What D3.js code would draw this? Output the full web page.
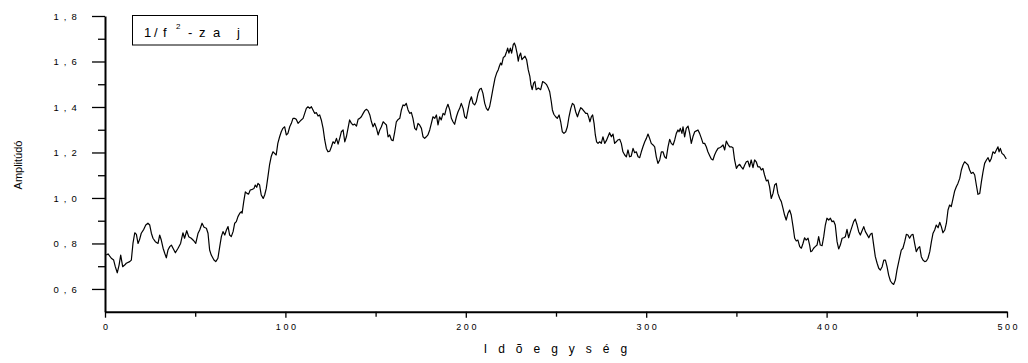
<!DOCTYPE html>
<html>
<head>
<meta charset="utf-8">
<script src="https://cdn.jsdelivr.net/npm/d3@7"></script>
<style>
  body { margin: 0; background: #fff; }
  svg { display: block; }
  text { font-family: "Liberation Sans", Arial, sans-serif; fill: #000; }
</style>
</head>
<body>
<svg id="chart" width="1028" height="363"></svg>
<script>
// Time samples of the 1/f^2 noise trace
const t = [
  0.7,1.7,3.5,4.8,5.7,6.8,7.8,8.7,9.8,10.9,11.8,13.7,14.6,15.5,16.5,17.4,18.3,19.2,20.1,21.5,
  22.6,23.8,24.8,25.7,26.6,27.9,29.4,30.3,31.2,32.2,33.1,34.0,34.9,35.9,36.8,37.7,39.0,40.5,41.9,43.2,
  44.1,45.3,46.4,47.8,49.2,50.3,
  51.6,52.5,53.8,54.9,56.2,57.1,58.0,58.9,60.4,61.4,62.6,63.6,64.5,65.4,66.4,67.3,68.2,69.1,70.0,71.0,
  71.9,72.8,73.7,74.7,75.6,76.0,76.9,77.8,78.7,79.6,80.5,81.7,82.6,83.3,84.1,84.8,85.7,86.6,87.7,88.5,
  89.4,90.3,91.2,92.1,93.1,94.0,94.9,95.8,96.8,97.7,98.6,99.6,100.5,101.4,102.4,103.3,104.2,105.1,106.0,
  107.0,108.8,109.8,110.7,111.6,112.5,113.5,114.4,115.3,116.2,117.2,118.1,119.0,119.9,120.9,121.8,122.7,123.6,124.6,125.5,
  126.4,127.3,128.3,129.2,130.1,131.0,132.0,132.9,133.8,134.7,135.6,136.6,137.5,138.4,139.4,140.3,141.2,142.1,143.1,144.0,
  144.9,145.8,146.8,147.7,148.6,149.5,150.5,151.4,152.3,153.2,154.2,155.1,156.0,156.9,157.8,158.8,159.7,160.6,161.5,
  162.5,163.4,164.3,165.2,166.1,167.0,168.0,168.9,169.8,170.7,171.7,172.6,173.5,174.4,175.4,176.3,177.2,178.1,179.0,180.0,
  180.9,181.8,182.8,183.7,184.6,185.5,186.4,187.4,188.3,189.2,190.1,191.1,192.0,192.9,193.8,194.8,195.7,196.6,197.5,198.5,
  199.4,200.3,201.2,202.1,203.1,204.0,204.9,205.8,206.8,207.7,208.6,209.5,210.5,211.4,212.3,213.2,214.1,215.1,
  216.2,217.1,218.0,218.6,219.3,219.9,220.8,221.7,222.7,223.2,223.9,224.7,225.4,226.3,226.9,227.6,228.4,229.1,229.6,230.4,
  231.1,231.8,232.8,233.7,234.6,235.5,236.1,236.8,237.6,238.3,239.0,240.2,241.5,242.6,243.9,244.8,245.7,
  246.5,247.4,248.0,248.8,249.8,250.7,251.7,252.6,253.5,254.4,255.4,256.3,257.2,258.2,259.1,260.0,260.9,261.9,262.8,263.7,
  264.6,265.5,266.5,267.4,268.3,268.8,269.6,270.3,271.1,271.8,272.5,273.3,
  274.2,275.1,276.0,277.0,277.9,278.8,279.7,280.7,281.6,282.5,283.4,284.3,285.3,286.2,287.1,288.1,289.0,289.9,290.8,291.7,
  292.7,293.6,294.5,295.5,296.4,297.3,298.2,299.2,300.1,301.0,301.9,302.8,303.8,304.7,305.6,306.5,307.5,308.4,309.3,310.2,
  311.1,312.1,313.0,313.9,314.9,315.8,316.7,317.6,318.2,318.9,319.8,320.4,321.3,322.2,323.2,324.1,325.0,325.9,326.9,327.8,
  328.7,329.6,330.6,331.5,
  332.4,333.3,334.2,335.2,336.1,337.0,337.9,338.9,339.8,340.7,341.6,342.6,343.5,344.4,345.3,346.3,347.2,348.1,349.0,350.0,
  350.9,351.8,352.7,353.7,354.6,355.5,356.4,357.3,358.2,359.2,360.1,361.0,361.9,362.9,363.8,364.7,365.6,366.6,367.5,368.4,
  369.3,370.3,371.2,372.1,373.0,374.0,374.9,375.8,376.7,377.6,378.6,379.5,380.4,381.4,382.3,383.2,
  384.1,385.1,386.0,386.9,387.8,388.7,389.7,390.6,391.2,391.9,392.8,393.7,394.7,395.6,396.5,397.5,398.4,399.3,400.2,401.2,
  402.1,403.0,403.9,404.8,405.8,406.7,407.6,408.6,409.5,410.4,411.3,412.2,413.2,414.1,415.0,415.9,416.9,417.8,418.7,419.6,
  420.6,421.5,422.4,423.4,424.3,425.2,426.1,427.0,428.0,428.9,429.8,430.8,431.7,432.6,433.5,434.4,435.4,436.3,437.2,438.1,
  439.0,440.0,
  441.4,442.3,443.3,444.2,445.1,446.0,447.0,447.9,448.8,449.7,450.7,451.6,452.5,453.4,454.4,455.3,456.2,457.2,458.1,459.0,
  459.9,460.8,461.8,462.7,463.6,464.5,465.5,466.4,467.3,468.2,469.1,470.1,471.0,471.9,472.8,473.8,474.7,475.6,476.5,477.5,
  478.4,479.3,480.2,481.2,482.1,483.0,483.9,484.9,485.8,486.7,487.6,488.6,489.5,490.4,491.3,492.2,493.2,494.1,495.0,495.6,
  496.3,497.2,498.3,499.6
];
const amplitude = [
  .749,.754,.735,.727,.698,.671,.705,.749,.698,.705,.713,.720,.727,.800,.847,.840,.800,.818,.845,.862,
  .881,.889,.881,.845,.823,.808,.800,.837,.815,.779,.757,.737,.771,.786,.793,.779,.759,.779,.800,.847,
  .823,.856,.830,.823,.812,.800,
  .845,.859,.889,.871,.867,.845,.771,.749,.727,.720,.735,.786,.830,.852,.837,.859,.874,.837,.830,.852,
  .889,.896,.918,.933,.940,.933,.984,1.027,1.020,1.017,1.035,1.038,1.042,1.057,1.047,1.064,1.057,1.013,.998,1.013,
  1.042,1.093,1.145,1.181,1.203,1.196,1.189,1.240,1.269,1.291,1.306,1.313,1.277,1.284,1.313,1.328,1.350,1.350,1.346,
  1.328,1.343,1.350,1.372,1.394,1.401,1.394,1.401,1.387,1.372,1.375,1.360,1.365,1.343,1.306,1.255,1.218,1.203,1.206,1.225,
  1.247,1.240,1.262,1.237,1.262,1.291,1.299,1.247,1.269,1.306,1.343,1.328,1.321,1.325,1.316,1.346,1.350,1.357,1.372,1.384,
  1.390,1.384,1.365,1.335,1.313,1.328,1.306,1.277,1.299,1.313,1.335,1.328,1.321,1.269,1.277,1.255,1.252,1.291,1.335,
  1.345,1.350,1.387,1.409,1.406,1.416,1.387,1.372,1.376,1.350,1.306,1.299,1.328,1.321,1.306,1.269,1.262,1.269,1.277,1.299,
  1.328,1.357,1.350,1.365,1.321,1.357,1.343,1.372,1.365,1.394,1.412,1.387,1.350,1.335,1.324,1.357,1.379,1.394,1.416,1.394,
  1.357,1.350,1.387,1.423,1.445,1.416,1.409,1.423,1.460,1.478,1.482,1.460,1.416,1.394,1.385,1.401,1.438,1.482,
  1.527,1.549,1.564,1.579,1.593,1.585,1.618,1.623,1.645,1.659,1.637,1.659,1.637,1.674,1.681,1.667,1.637,1.601,1.623,1.637,
  1.608,1.615,1.623,1.608,1.564,1.535,1.498,1.476,1.505,1.512,1.476,1.483,1.476,1.512,1.505,1.498,1.483,
  1.467,1.423,1.387,1.368,1.357,1.350,1.365,1.335,1.291,1.284,1.291,1.313,1.357,1.394,1.416,1.409,1.379,1.357,1.379,1.397,
  1.391,1.382,1.372,1.372,1.350,1.335,1.357,1.365,1.328,1.277,1.247,1.240,
  1.247,1.240,1.269,1.240,1.252,1.269,1.287,1.269,1.281,1.240,1.247,1.255,1.258,1.240,1.203,1.189,1.181,1.211,1.181,1.184,
  1.218,1.199,1.203,1.181,1.177,1.203,1.225,1.247,1.262,1.281,1.262,1.240,1.233,1.225,1.181,1.152,1.167,1.203,1.203,1.181,
  1.174,1.225,1.258,1.240,1.233,1.255,1.284,1.299,1.291,1.306,1.284,1.313,1.269,1.306,1.316,1.284,1.240,1.269,1.291,1.295,
  1.299,1.284,1.262,1.240,
  1.240,1.225,1.203,1.186,1.171,1.167,1.189,1.206,1.218,1.221,1.225,1.233,1.211,1.250,1.236,1.225,1.225,1.221,1.167,1.130,
  1.142,1.148,1.137,1.127,1.145,1.159,1.162,1.137,1.167,1.133,1.167,1.159,1.137,1.137,1.123,1.130,1.101,1.075,1.079,1.049,
  .998,1.020,1.057,1.064,1.020,.998,.984,.955,.925,.903,.933,.947,.925,.874,.823,.811,
  .815,.786,.779,.800,.825,.815,.823,.793,.764,.767,.779,.786,.793,.830,.793,.790,.830,.881,.911,.903,
  .911,.896,.899,.881,.808,.776,.793,.823,.825,.830,.862,.825,.852,.874,.896,.907,.881,.852,.837,.855,
  .874,.852,.840,.825,.840,.845,.793,.742,.713,.691,.683,.698,.727,.727,.698,.661,.635,.625,.620,.639,
  .683,.720,
  .771,.779,.808,.840,.837,.823,.837,.840,.800,.764,.779,.786,.742,.727,.720,.723,.735,.764,.808,.845,
  .859,.881,.869,.893,.874,.847,.859,.889,.947,.969,.962,.998,1.031,1.049,1.064,1.086,1.123,1.145,1.159,1.152,
  1.145,1.123,1.108,1.113,1.101,1.057,1.016,1.020,1.071,1.115,1.152,1.167,1.177,1.159,1.174,1.203,1.196,1.211,1.225,1.203,
  1.218,1.196,1.189,1.171
];

// Axis ticks and their printed labels
const xTicks = [0, 100, 200, 300, 400, 500];
const xTickLabels = ["0", "100", "200", "300", "400", "500"];
const xMinorTicks = [50, 150, 250, 350, 450];
const yTicks = [0.6, 0.8, 1.0, 1.2, 1.4, 1.6, 1.8];
const yTickLabels = ["0 , 6", "0 , 8", "1 , 0", "1 , 2", "1 , 4", "1 , 6", "1 , 8"];
const yMinorTicks = [0.7, 0.9, 1.1, 1.3, 1.5, 1.7];

const xTitle = "Idõegység";
const yTitle = "Amplitúdó";

const svg = d3.select("#chart");

const x = d3.scaleLinear().domain([0, 500]).range([105, 1007]);
const y = d3.scaleLinear().domain([0.5, 1.8]).range([311.7, 16]);

// Minor ticks (no labels)
svg.append("g")
  .attr("transform", `translate(${x(0)},0)`)
  .call(d3.axisLeft(y).tickValues(yMinorTicks).tickSize(7).tickSizeOuter(0).tickFormat(""))
  .call(g => g.select(".domain").remove())
  .call(g => g.selectAll("line").attr("stroke", "#000").attr("stroke-width", 1.3));

svg.append("g")
  .attr("transform", `translate(0,${y(0.5)})`)
  .call(d3.axisBottom(x).tickValues(xMinorTicks).tickSize(5).tickSizeOuter(0).tickFormat(""))
  .call(g => g.select(".domain").remove())
  .call(g => g.selectAll("line").attr("stroke", "#000").attr("stroke-width", 1.3));

// Major y axis
const yAxis = svg.append("g")
  .attr("transform", `translate(${x(0)},0)`)
  .call(d3.axisLeft(y).tickValues(yTicks).tickSize(13).tickSizeOuter(0)
    .tickFormat((d, i) => yTickLabels[i]).tickPadding(14));
yAxis.select(".domain").attr("stroke", "#000").attr("stroke-width", 2);
yAxis.selectAll("line").attr("stroke", "#000").attr("stroke-width", 1.3);
yAxis.selectAll("text")
  .attr("font-size", 9.5)
  .attr("letter-spacing", 1.2)
  .attr("font-family", "'Liberation Sans', Arial, sans-serif")
  .attr("fill", "#000");

// Major x axis
const xAxis = svg.append("g")
  .attr("transform", `translate(0,${y(0.5)})`)
  .call(d3.axisBottom(x).tickValues(xTicks).tickSize(6).tickSizeOuter(0)
    .tickFormat((d, i) => xTickLabels[i]).tickPadding(6));
xAxis.select(".domain").attr("stroke", "#000").attr("stroke-width", 2);
xAxis.selectAll("line").attr("stroke", "#000").attr("stroke-width", 1.3);
xAxis.selectAll("text")
  .attr("font-size", 9)
  .attr("letter-spacing", 2.6)
  .attr("dx", 1.3)
  .attr("font-family", "'Liberation Sans', Arial, sans-serif")
  .attr("fill", "#000");

// Noise trace
const line = d3.line()
  .x((d, i) => x(t[i]))
  .y(d => y(d));

svg.append("path")
  .datum(amplitude)
  .attr("fill", "none")
  .attr("stroke", "#000")
  .attr("stroke-width", 1.2)
  .attr("stroke-linejoin", "round")
  .attr("d", line);

// Axis titles
svg.append("text")
  .attr("x", 561)
  .attr("y", 353)
  .attr("text-anchor", "middle")
  .attr("font-size", 12)
  .attr("letter-spacing", 11)
  .text(xTitle);

svg.append("text")
  .attr("transform", "translate(22,165) rotate(-90)")
  .attr("text-anchor", "middle")
  .attr("font-size", 11)
  .text(yTitle);

// Legend box with spaced label "1/f² - zaj"
const legend = svg.append("g");
legend.append("rect")
  .attr("x", 132.5).attr("y", 15.5)
  .attr("width", 125).attr("height", 29.5)
  .attr("fill", "#fff").attr("stroke", "#000").attr("stroke-width", 1);

const legendGlyphs = [
  { ch: "1", dx: 0 }, { ch: "/", dx: 10 }, { ch: "f", dx: 19 },
  { ch: "2", dx: 32, sup: true }, { ch: "-", dx: 44 }, { ch: "z", dx: 55 },
  { ch: "a", dx: 69 }, { ch: "j", dx: 93 }
];
const lt = legend.append("text")
  .attr("x", 144).attr("y", 37)
  .attr("font-size", 13);
lt.selectAll("tspan")
  .data(legendGlyphs)
  .join("tspan")
  .attr("x", d => 144 + d.dx)
  .attr("y", d => d.sup ? 29 : 37)
  .attr("font-size", d => d.sup ? 8 : 13)
  .text(d => d.ch);
</script>
</body>
</html>
